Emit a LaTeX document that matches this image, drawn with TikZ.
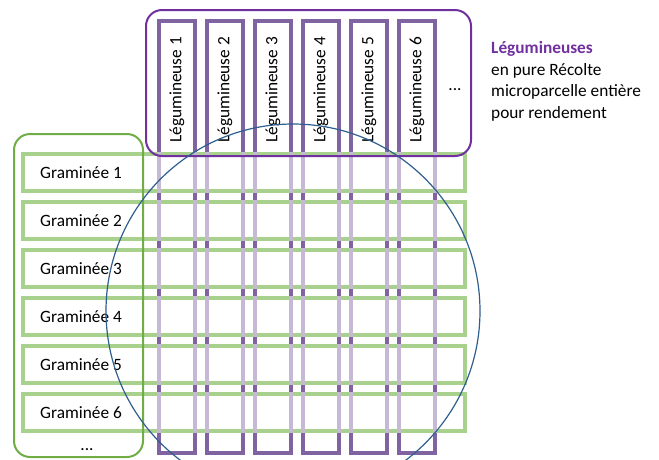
\documentclass[tikz,border=0pt]{standalone}
\usepackage{fontspec}
\setmainfont{Carlito}
\usetikzlibrary{positioning}
\definecolor{legpurple}{HTML}{8064A2}
\definecolor{legdark}{HTML}{7030A0}
\definecolor{gramgreen}{HTML}{70AD47}
\definecolor{bargreen}{HTML}{409904}
\definecolor{zoneblue}{HTML}{2F5F8F}
\begin{document}
\begin{tikzpicture}[x=1pt,y=-1pt,
  lbl/.style={font=\fontsize{17.3}{21.7}\selectfont,inner sep=0pt},
  legcol/.style={draw=legpurple,line width=4pt},
  barline/.style={draw=bargreen,line width=4pt},
  barveil/.style={fill=white,fill opacity=0.55},
  group/.style={rounded corners=16pt,line width=2pt}
]
\useasboundingbox (0,0) rectangle (659,459);
% graminee bars, outline first
\foreach \j in {1,...,6}
  \draw[barline] (23,{154+48*(\j-1)}) rectangle (465,{191+48*(\j-1)});
% legumineuse columns
\foreach \i in {1,...,6}
  \draw[legcol] ({159+48*(\i-1)},21) rectangle ({195+48*(\i-1)},453);
% pale veil over the bars
\foreach \j in {1,...,6}
  \fill[barveil] (21,{152+48*(\j-1)}) rectangle (467,{193+48*(\j-1)});

% the two groups
\draw[group,draw=legdark] (146,10) rectangle (471,156);
\draw[group,draw=gramgreen] (14,134) rectangle (143,457);

% labels
\foreach \i in {1,...,6}
  \node[lbl,rotate=90] (leg\i) at ({177+48*(\i-1)},90) {Légumineuse \i};
\node[lbl] (legmore) at (455,90) {...};
\foreach \j in {1,...,6}
  \node[lbl] (gram\j) at (81,{173+48*(\j-1)}) {Graminée \j};
\node[lbl] (grammore) at (87,450) {...};
\node[lbl,anchor=north west,align=left] (legend) at (491,41)
  {\textcolor{legdark}{\textbf{Légumineuses}}\\en pure Récolte\\microparcelle entière\\pour rendement};

% sampled zone
\begin{scope}
  \clip (0,0) rectangle (659,459);
  \draw[zoneblue,line width=1.2pt] (293,311) circle[radius=187];
\end{scope}
\end{tikzpicture}
\end{document}
